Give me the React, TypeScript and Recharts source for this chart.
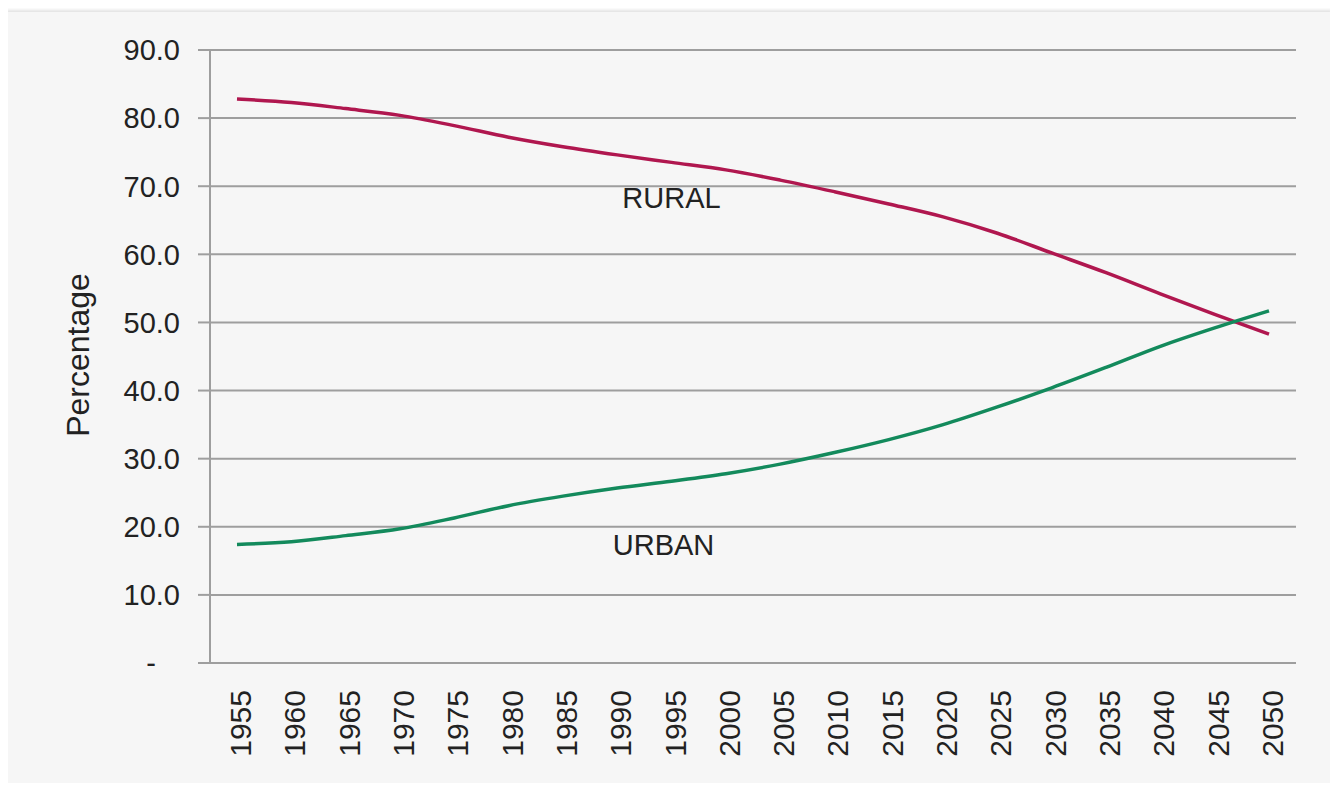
import React from "react";
import {
  LineChart,
  Line,
  XAxis,
  YAxis,
  CartesianGrid,
  ReferenceDot,
  Label,
} from "recharts";

const years = [
  "1955", "1960", "1965", "1970", "1975", "1980", "1985", "1990", "1995", "2000",
  "2005", "2010", "2015", "2020", "2025", "2030", "2035", "2040", "2045", "2050",
];
const rural = [
  82.8, 82.3, 81.4, 80.4, 78.9, 77.2, 75.8, 74.6, 73.5, 72.4,
  70.9, 69.2, 67.4, 65.5, 63.1, 60.2, 57.3, 54.2, 51.2, 48.3,
];
const urban = [
  17.4, 17.8, 18.7, 19.7, 21.3, 23.1, 24.5, 25.7, 26.7, 27.8,
  29.2, 30.9, 32.8, 35.0, 37.6, 40.4, 43.4, 46.5, 49.2, 51.7,
];
const yTicks = [0, 10, 20, 30, 40, 50, 60, 70, 80, 90];
const seriesLabels = { rural: "RURAL", urban: "URBAN" };
const axisTitle = "Percentage";

const data = years.map((y, i) => ({ year: y, rural: rural[i], urban: urban[i] }));

const FONT = "'Liberation Sans', Arial, sans-serif";
const GRID = "#9e9e9e";

const XTick = (props: any) => {
  const { x, y, payload } = props;
  const ax = x + 14;
  return (
    <text
      x={ax}
      y={y}
      transform={`rotate(-90, ${ax}, ${y})`}
      textAnchor="end"
      fontSize={30}
      fontFamily={FONT}
      fill="#222"
    >
      {payload.value}
    </text>
  );
};

export default function App() {
  return (
    <div
      style={{
        position: "relative",
        top: 4,
        width: 1326,
        height: 775,
        background: "#f6f6f6",
        boxShadow: "-2px -2px 3px rgba(0,0,0,0.12)",
      }}
    >
      <LineChart
        width={1326}
        height={775}
        data={data}
        margin={{ top: 38, right: 38, bottom: 0, left: 0 }}
      >
        <CartesianGrid vertical={false} stroke={GRID} strokeWidth={2} />
        <XAxis
          dataKey="year"
          tick={<XTick />}
          tickLine={false}
          tickSize={0}
          tickMargin={27}
          height={124}
          interval={0}
          padding={{ left: 27, right: 27 }}
          axisLine={{ stroke: GRID, strokeWidth: 2 }}
        />
        <YAxis
          domain={[0, 90]}
          ticks={yTicks}
          width={202}
          tickSize={12}
          tickMargin={18}
          interval={0}
          tickLine={{ stroke: GRID, strokeWidth: 2 }}
          axisLine={{ stroke: GRID, strokeWidth: 2 }}
          tick={{ fontSize: 29, fontFamily: FONT, fill: "#222" }}
          tickFormatter={(v: number) => (v === 0 ? "-\u00a0\u00a0\u00a0" : v.toFixed(1))}
        >
          <Label
            content={() => (
              <text
                x={81}
                y={343}
                transform="rotate(-90, 81, 343)"
                textAnchor="middle"
                fontSize={32}
                fontFamily={FONT}
                fill="#222"
              >
                {axisTitle}
              </text>
            )}
          />
        </YAxis>
        <Line
          type="monotone"
          dataKey="rural"
          stroke="#B0174F"
          strokeWidth={3.5}
          dot={false}
          isAnimationActive={false}
        />
        <Line
          type="monotone"
          dataKey="urban"
          stroke="#138A5C"
          strokeWidth={3.5}
          dot={false}
          isAnimationActive={false}
        />
        <ReferenceDot
          x="1995"
          y={68.3}
          r={0}
          fill="none"
          stroke="none"
          label={{
            value: seriesLabels.rural,
            position: "center",
            fontSize: 29,
            fontFamily: FONT,
            fill: "#222",
          }}
        />
        <ReferenceDot
          x="1995"
          y={17.3}
          r={0}
          fill="none"
          stroke="none"
          label={{
            value: seriesLabels.urban,
            position: "center",
            dx: -8,
            fontSize: 29,
            fontFamily: FONT,
            fill: "#222",
          }}
        />
      </LineChart>
    </div>
  );
}
